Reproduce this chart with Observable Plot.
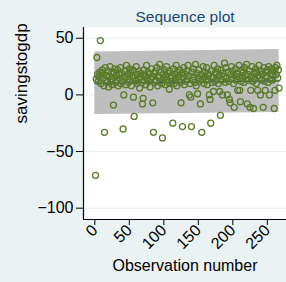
<!DOCTYPE html>
<html>
<head>
<meta charset="utf-8">
<script src="https://cdn.jsdelivr.net/npm/d3@7"></script>
<script src="https://cdn.jsdelivr.net/npm/@observablehq/plot@0.6"></script>
<style>
  html, body { margin: 0; padding: 0; background: #eaf2f3; }
  #chart { width: 286px; height: 282px; overflow: hidden; }
</style>
</head>
<body>
<div id="chart"></div>
<script>
// ---- data ----
const savings = [
  -71, 14, 33, 18, 12, 16, 20, 48, 10, 19,
  22, 15, 8, -33, 24, 13, 17, 11, 21, 7,
  16, 25, 12, 19, 9, 14, -9, 20, 23, 11,
  17, 13, 22, 8, 18, 15, 24, 10, 19, 12,
  -30, 0, 16, 21, 9, 26, 14, 18, 11, 23,
  13, 20, 8, 17, 22, -2, -19, 15, 12, 25,
  10, 18, 14, 21, 6, 16, 19, 11, -8, -3,
  22, 13, 17, 9, 26, 15, 20, 12, 18, 7,
  14, 23, 16, -7, -33, 19, 11, 21, 13, 24,
  8, 17, 15, 27, 12, 20, 10, -38, 18, 14,
  22, 9, 16, 25, 13, 19, 11, 5, 21, 15,
  17, 12, -25, 23, 10, 18, 14, 26, 8, 20,
  16, 13, 22, 11, -7, 19, -28, 15, 24, 9,
  18, 12, 21, 14, 26, 17, 0, 10, -2, -28,
  20, 13, 23, 16, 11, 27, 8, 19, 1, 15,
  22, 12, -8, 18, -33, 14, 25, 10, 20, 16,
  13, 24, 9, 19, 17, 0, -4, -25, 21, 11,
  15, 3, 26, 12, 20, 18, 14, 23, 10, 17,
  3, -18, 22, 13, 0, 19, 16, 28, 11, 24,
  15, 0, 20, 12, -4, -7, 18, 25, 14, 21,
  10, -11, 17, 23, 13, 19, 4, 16, 26, 4,
  -6, 12, 22, 15, 20, 11, 24, 17, 14, 27,
  -8, 18, 13, 21, -11, 4, 16, 25, 12, -12,
  19, 14, 23, 10, 20, 4, 17, 26, 15, 0,
  21, 13, 18, -11, 24, 12, 4, 20, 16, 22,
  11, 25, 0, 14, 19, 23, 13, 17, 21, -12,
  4, 24, 18, 26, 15, 22, 6
];
const bandObs  = [0, 267];
const bandLow  = [-17.3, -15.5];
const bandHigh = [37.9, 40.0];
const trendObs = [0, 267];
const trendVal = [10.2, 12.3];
const xTicks = [0, 50, 100, 150, 200, 250];
const yTicks = [50, 0, -50, -100];
const xDomain = [-16.4, 277.8];
const yDomain = [-110, 59.5];
const titleText = "Sequence plot";
const xLabel = "Observation number";
const yLabel = "savingstogdp";

const points = savings.map((v, i) => ({obs: i + 1, value: v}));
const band = bandObs.map((o, i) => ({obs: o, lo: bandLow[i], hi: bandHigh[i]}));
const trend = trendObs.map((o, i) => ({obs: o, value: trendVal[i]}));

const font = "'Liberation Sans', Arial, sans-serif";

const chart = Plot.plot({
  width: 286,
  height: 282,
  marginLeft: 83,
  marginRight: 0,
  marginTop: 27,
  marginBottom: 63,
  style: {background: "#eaf2f3", fontFamily: font, fontSize: "15px", color: "#000"},
  x: {domain: xDomain},
  y: {domain: yDomain},
  marks: [
    Plot.frame({fill: "white", stroke: "none"}),
    Plot.gridY(yTicks, {stroke: "#e3edef", strokeOpacity: 1, strokeWidth: 1}),
    Plot.areaY(band, {x: "obs", y1: "lo", y2: "hi", fill: "#bebebe", fillOpacity: 1}),
    Plot.line(trend, {x: "obs", y: "value", stroke: "#1a476f", strokeWidth: 1.3}),
    Plot.dot(points, {x: "obs", y: "value", r: 3, stroke: "#5a7a2a", strokeWidth: 1.3, fill: "none"}),
    Plot.ruleX([xDomain[0]], {stroke: "#000", strokeWidth: 1.2}),
    Plot.ruleY([yDomain[0]], {stroke: "#000", strokeWidth: 1.2}),
    Plot.axisY({ticks: yTicks, tickSize: 7, tickPadding: 3, fontSize: 16, label: null}),
    Plot.axisX({ticks: xTicks, tickSize: 6, tickPadding: 2, tickRotate: -45, fontSize: 16, label: null}),
    Plot.text([yLabel], {frameAnchor: "left", rotate: -90, dx: -62, fontSize: 17, fill: "#000"}),
    Plot.text([xLabel], {frameAnchor: "bottom", dy: 51, fontSize: 16, fill: "#000"}),
    Plot.text([titleText], {frameAnchor: "top", dy: -17, fontSize: 15.5, fill: "#1a476f"})
  ]
});
document.getElementById("chart").appendChild(chart);
</script>
</body>
</html>
